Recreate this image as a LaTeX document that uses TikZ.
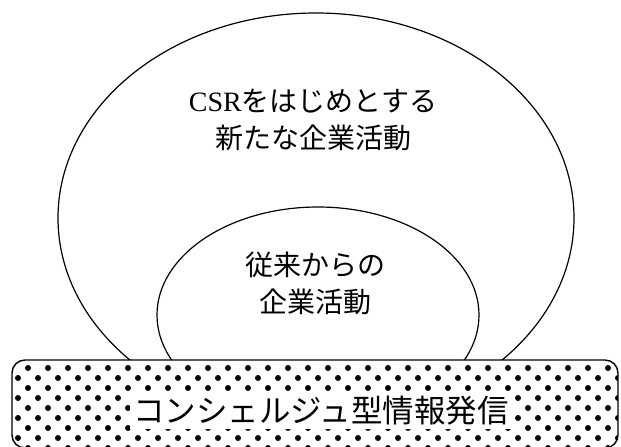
\documentclass[tikz,border=0pt]{standalone}
\usepackage{fontspec}
\newfontfamily\cjk{Noto Sans CJK JP}
\newfontfamily\lat{Liberation Serif}
\usetikzlibrary{shapes.geometric}
\tikzset{
  oval/.style={ellipse, draw, line width=1.2pt, inner sep=0pt},
  lbl/.style={font=\fontsize{28}{37}\selectfont\cjk, align=center, inner sep=0pt},
}
\begin{document}
\begin{tikzpicture}[x=1pt,y=-1pt]
\useasboundingbox (0,0) rectangle (621,447);
\fill[white] (0,0) rectangle (621,447);
\node[oval, minimum width=516pt, minimum height=410pt] (outer) at (316,218) {};
\node[oval, minimum width=322pt, minimum height=216pt] (inner) at (318,315) {};
\node[lbl] (t1) at (313,120) {{\lat CSR}をはじめとする\\新たな企業活動};
\node[lbl] (t2) at (315,283) {従来からの\\企業活動};
\draw[line width=1.4pt, fill=white, rounded corners=13pt] (12,360) rectangle (618,448);
\begin{scope}
\clip[rounded corners=13pt] (12,360) rectangle (618,448);
\foreach \r in {0,...,8}{
  \pgfmathsetmacro{\xo}{mod(\r,2)==0 ? 28 : 18}
  \pgfmathsetmacro{\yy}{368+10*\r}
  \foreach \c in {0,...,30}{
    \fill (\xo+20*\c,\yy) circle (3pt);
  }
}
\end{scope}
\node[font=\fontsize{31.5}{31.5}\selectfont\cjk, fill=white, inner xsep=3pt, inner ysep=3pt] (t3) at (321,411) {コンシェルジュ型情報発信};
\end{tikzpicture}
\end{document}
